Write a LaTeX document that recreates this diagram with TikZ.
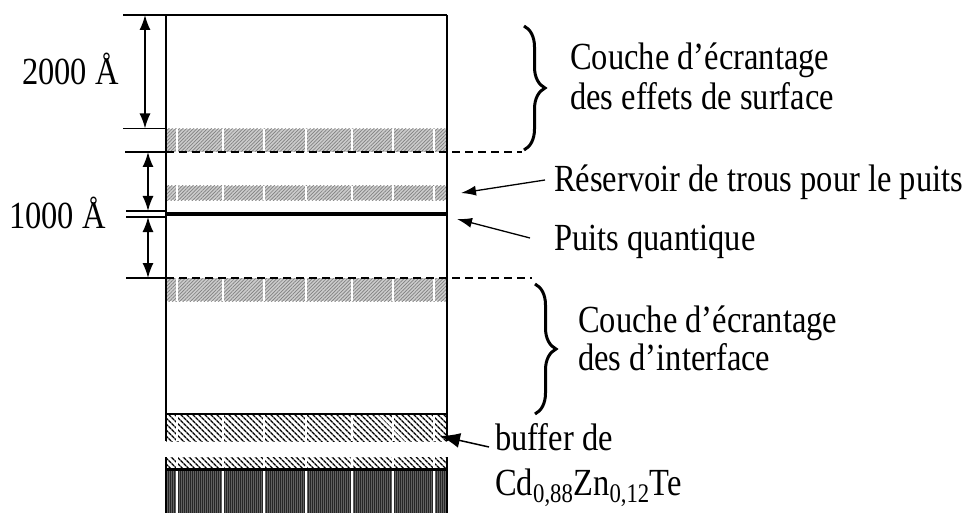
\documentclass[tikz,border=0pt]{standalone}
\usepackage{fontspec}
\setmainfont{Liberation Serif}
\usetikzlibrary{arrows.meta,patterns.meta,decorations.pathreplacing}
\newcommand{\tall}[1]{\scalebox{1}[1.18]{#1}}

\begin{document}
\begin{tikzpicture}[x=1pt, y=-1pt,
  lbl/.style={anchor=base west, inner sep=0pt, font=\fontsize{32.5}{36}\selectfont},
  wall/.style={line width=2pt},
  tick/.style={line width=1.5pt},
  dim/.style={{Latex[length=15pt,width=11pt]}-{Latex[length=15pt,width=11pt]}, line width=1.5pt},
  ptr/.style={-{Latex[length=15pt,width=10pt]}, line width=1.3pt},
  limit/.style={dash pattern=on 8pt off 5pt, line width=2pt},
  greyband/.style={preaction={fill=gray!40}, pattern={Lines[angle=45,distance=2.5pt,line width=0.7pt]}, pattern color=black!50},
  bufband/.style={preaction={fill=white}, pattern={Lines[angle=-45,distance=4pt,line width=1.4pt]}, pattern color=black},
  subband/.style={preaction={fill=black!62}, pattern={Lines[angle=90,distance=2pt,line width=0.6pt]}, pattern color=black!85},
  curly/.style={decorate, decoration={brace, amplitude=21pt}, line width=3pt}
]
\useasboundingbox (0,0) rectangle (963,513);

% layers
\path[greyband] (166,129) rectangle (447,152);
\path[greyband] (166,186) rectangle (447,200);
\path[greyband] (166,278) rectangle (447,301);
\path[bufband] (166,414) rectangle (447,441);
\path[bufband] (166,457) rectangle (447,469);
\path[subband] (166,469) rectangle (447,513);
\foreach \ya/\yb in {129/152, 186/200, 278/301, 414/441, 457/513}
  \foreach \x in {177,223,264,306,352,393,434}
    \draw[white, line width=1.5pt] (\x,\ya) -- (\x,\yb);

% sample
\draw[wall] (123,15) -- (447,15);
\draw[wall] (166,15) -- (166,441);
\draw[wall] (447,15) -- (447,441);
\draw[wall] (166,457) -- (166,513);
\draw[wall] (447,457) -- (447,513);
\draw[wall] (166,414) -- (447,414);
\draw[line width=3pt] (166,469) -- (447,469);
\draw[line width=4pt] (166,214) -- (447,214);
\draw[limit] (166,152) -- (522,152);
\draw[limit] (166,278) -- (532,278);

% ticks
\draw[tick] (123,128.5) -- (166,128.5);
\draw[tick] (125,152) -- (166,152);
\draw[line width=1.2pt] (126,211) -- (166,211);
\draw[line width=1.2pt] (126,217) -- (166,217);
\draw[tick] (126,278) -- (166,278);

% thicknesses
\coordinate (t0) at (145,15);
\coordinate (t1) at (145,128.5);
\coordinate (t2) at (148,152);
\coordinate (t3) at (148,211);
\coordinate (t4) at (148,217);
\coordinate (t5) at (148,278);
\draw[dim] (t0) -- (t1);
\draw[dim] (t2) -- (t3);
\draw[dim] (t4) -- (t5);
\node[lbl] (e2000) at (22,85) {\tall{2000 Å}};
\node[lbl] (e1000) at (9,228) {\tall{1000 Å}};

% braces
\draw[curly] (524,26) -- (524,150);
\draw[curly] (535,284) -- (535,414);
\node[lbl] (surf1) at (570,70) {\tall{Couche d’écrantage}};
\node[lbl] (surf2) at (570,110) {\tall{des effets de surface}};
\node[lbl] (intf1) at (578,332) {\tall{Couche d’écrantage}};
\node[lbl] (intf2) at (578,370) {\tall{des d’interface}};

% pointers
\node[lbl] (res) at (554,192) {\tall{Réservoir de trous pour le puits}};
\node[lbl] (qw) at (554,250) {\tall{Puits quantique}};
\node[lbl] (buf1) at (495,450) {\tall{buffer de}};
\node[lbl] (buf2) at (495,495) {\tall{Cd\textsubscript{0,88}Zn\textsubscript{0,12}Te}};
\coordinate (resT) at (461,193);
\coordinate (qwT) at (457,219);
\coordinate (bufT) at (440,436);
\draw[ptr] (545,180) -- (resT);
\draw[ptr] (530,238) -- (qwT);
\draw[-{Latex[length=20pt,width=15pt]}, line width=1.5pt] (489,447) -- (bufT);
\end{tikzpicture}
\end{document}
